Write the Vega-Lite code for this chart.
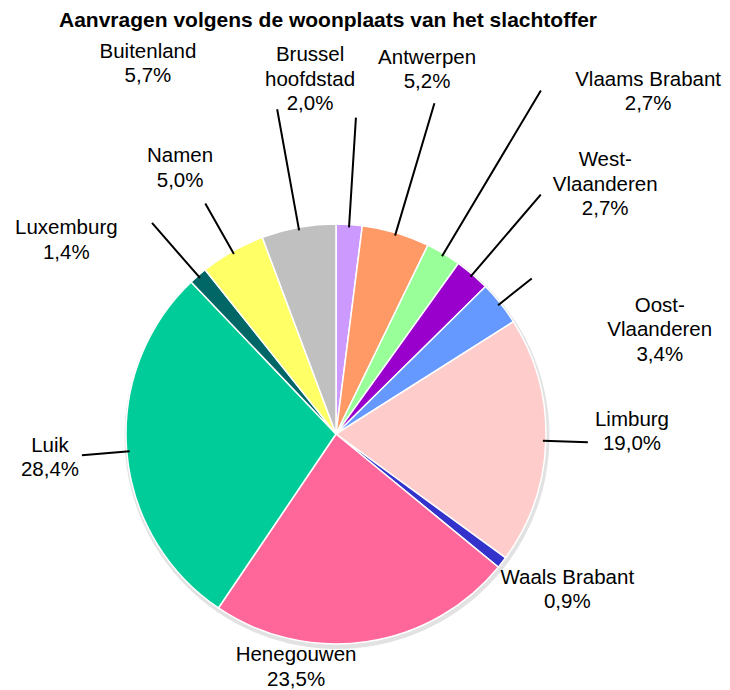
{
  "$schema": "https://vega.github.io/schema/vega-lite/v6.json",
  "autosize": "none",
  "width": 672,
  "height": 788,
  "padding": {"left": 0, "top": 40, "right": 58, "bottom": 0},
  "background": "white",
  "title": {
    "text": "Aanvragen volgens de woonplaats van het slachtoffer",
    "font": "Liberation Sans",
    "fontSize": 21,
    "fontWeight": "bold",
    "color": "black",
    "anchor": "middle",
    "frame": "group",
    "baseline": "alphabetic",
    "offset": -99,
    "dx": -8
  },
  "config": {"view": {"stroke": null}},
  "data": {
    "values": [
      {"nr": 1, "regio": "Brussel hoofdstad", "pct": 2.0, "label": "Brussel\nhoofdstad\n2,0%"},
      {"nr": 2, "regio": "Antwerpen", "pct": 5.2, "label": "Antwerpen\n5,2%"},
      {"nr": 3, "regio": "Vlaams Brabant", "pct": 2.7, "label": "Vlaams Brabant\n2,7%"},
      {"nr": 4, "regio": "West-Vlaanderen", "pct": 2.7, "label": "West-\nVlaanderen\n2,7%"},
      {"nr": 5, "regio": "Oost-Vlaanderen", "pct": 3.4, "label": "Oost-\nVlaanderen\n3,4%"},
      {"nr": 6, "regio": "Limburg", "pct": 19.0, "label": "Limburg\n19,0%"},
      {"nr": 7, "regio": "Waals Brabant", "pct": 0.9, "label": "Waals Brabant\n0,9%"},
      {"nr": 8, "regio": "Henegouwen", "pct": 23.5, "label": "Henegouwen\n23,5%"},
      {"nr": 9, "regio": "Luik", "pct": 28.4, "label": "Luik\n28,4%"},
      {"nr": 10, "regio": "Luxemburg", "pct": 1.4, "label": "Luxemburg\n1,4%"},
      {"nr": 11, "regio": "Namen", "pct": 5.0, "label": "Namen\n5,0%"},
      {"nr": 12, "regio": "Buitenland", "pct": 5.7, "label": "Buitenland\n5,7%"}
    ]
  },
  "encoding": {
    "theta": {"field": "pct", "type": "quantitative", "stack": true},
    "order": {"field": "nr", "type": "quantitative"},
    "detail": {"field": "regio", "type": "nominal"}
  },
  "layer": [
    {
      "mark": {"type": "arc", "radius": 212, "yOffset": 2.5, "xOffset": 1, "stroke": "#e2e2e2", "strokeWidth": 1},
      "encoding": {"color": {"value": "#e2e2e2"}}
    },
    {
      "mark": {"type": "arc", "radius": 210, "stroke": "white", "strokeWidth": 1.5},
      "encoding": {
        "color": {
          "field": "regio", "type": "nominal", "legend": null,
          "scale": {
            "domain": ["Brussel hoofdstad", "Antwerpen", "Vlaams Brabant", "West-Vlaanderen", "Oost-Vlaanderen", "Limburg", "Waals Brabant", "Henegouwen", "Luik", "Luxemburg", "Namen", "Buitenland"],
            "range": ["#CC99FF", "#FF9966", "#99FF99", "#9900CC", "#6699FF", "#FFCCCC", "#3333CC", "#FF6699", "#00CC99", "#006666", "#FFFF66", "#C0C0C0"]
          }
        }
      }
    },
    {"mark": {"type": "arc", "radius": 317, "radius2": 207, "padAngle": 3, "filled": false, "strokeWidth": 2},
     "encoding": {"color": {"value": "black"}, "opacity": {"condition": {"test": "datum.regio === 'Brussel hoofdstad'", "value": 1}, "value": 0}}},
    {"mark": {"type": "arc", "radius": 345, "radius2": 207, "padAngle": 3, "filled": false, "strokeWidth": 2},
     "encoding": {"color": {"value": "black"}, "opacity": {"condition": {"test": "datum.regio === 'Antwerpen'", "value": 1}, "value": 0}}},
    {"mark": {"type": "arc", "radius": 400, "radius2": 207, "padAngle": 3, "filled": false, "strokeWidth": 2},
     "encoding": {"color": {"value": "black"}, "opacity": {"condition": {"test": "datum.regio === 'Vlaams Brabant'", "value": 1}, "value": 0}}},
    {"mark": {"type": "arc", "radius": 315, "radius2": 207, "padAngle": 3, "filled": false, "strokeWidth": 2},
     "encoding": {"color": {"value": "black"}, "opacity": {"condition": {"test": "datum.regio === 'West-Vlaanderen'", "value": 1}, "value": 0}}},
    {"mark": {"type": "arc", "radius": 250, "radius2": 207, "padAngle": 3, "filled": false, "strokeWidth": 2},
     "encoding": {"color": {"value": "black"}, "opacity": {"condition": {"test": "datum.regio === 'Oost-Vlaanderen'", "value": 1}, "value": 0}}},
    {"mark": {"type": "arc", "radius": 252, "radius2": 207, "padAngle": 3, "filled": false, "strokeWidth": 2},
     "encoding": {"color": {"value": "black"}, "opacity": {"condition": {"test": "datum.regio === 'Limburg'", "value": 1}, "value": 0}}},
    {"mark": {"type": "arc", "radius": 255, "radius2": 207, "padAngle": 3, "filled": false, "strokeWidth": 2},
     "encoding": {"color": {"value": "black"}, "opacity": {"condition": {"test": "datum.regio === 'Luik'", "value": 1}, "value": 0}}},
    {"mark": {"type": "arc", "radius": 280, "radius2": 207, "padAngle": 3, "filled": false, "strokeWidth": 2},
     "encoding": {"color": {"value": "black"}, "opacity": {"condition": {"test": "datum.regio === 'Luxemburg'", "value": 1}, "value": 0}}},
    {"mark": {"type": "arc", "radius": 265, "radius2": 207, "padAngle": 3, "filled": false, "strokeWidth": 2},
     "encoding": {"color": {"value": "black"}, "opacity": {"condition": {"test": "datum.regio === 'Namen'", "value": 1}, "value": 0}}},
    {"mark": {"type": "arc", "radius": 330, "radius2": 207, "padAngle": 3, "filled": false, "strokeWidth": 2},
     "encoding": {"color": {"value": "black"}, "opacity": {"condition": {"test": "datum.regio === 'Buitenland'", "value": 1}, "value": 0}}},
    {"mark": {"type": "text", "radius": 355, "thetaOffset": -0.136, "dy": -24.5, "font": "Liberation Sans", "fontSize": 20.5, "lineBreak": "\n", "lineHeight": 24.5, "align": "center", "baseline": "middle"},
     "encoding": {"text": {"field": "label", "type": "nominal"}, "color": {"value": "black"}, "opacity": {"condition": {"test": "datum.regio === 'Brussel hoofdstad'", "value": 1}, "value": 0}}},
    {"mark": {"type": "text", "radius": 375, "thetaOffset": -0.044, "dy": -12.25, "font": "Liberation Sans", "fontSize": 20.5, "lineBreak": "\n", "lineHeight": 24.5, "align": "center", "baseline": "middle"},
     "encoding": {"text": {"field": "label", "type": "nominal"}, "color": {"value": "black"}, "opacity": {"condition": {"test": "datum.regio === 'Antwerpen'", "value": 1}, "value": 0}}},
    {"mark": {"type": "text", "radius": 463, "thetaOffset": 0.202, "dy": -12.25, "font": "Liberation Sans", "fontSize": 20.5, "lineBreak": "\n", "lineHeight": 24.5, "align": "center", "baseline": "middle"},
     "encoding": {"text": {"field": "label", "type": "nominal"}, "color": {"value": "black"}, "opacity": {"condition": {"test": "datum.regio === 'Vlaams Brabant'", "value": 1}, "value": 0}}},
    {"mark": {"type": "text", "radius": 367, "thetaOffset": 0.116, "dy": -24.5, "font": "Liberation Sans", "fontSize": 20.5, "lineBreak": "\n", "lineHeight": 24.5, "align": "center", "baseline": "middle"},
     "encoding": {"text": {"field": "label", "type": "nominal"}, "color": {"value": "black"}, "opacity": {"condition": {"test": "datum.regio === 'West-Vlaanderen'", "value": 1}, "value": 0}}},
    {"mark": {"type": "text", "radius": 340, "thetaOffset": 0.361, "dy": -24.5, "font": "Liberation Sans", "fontSize": 20.5, "lineBreak": "\n", "lineHeight": 24.5, "align": "center", "baseline": "middle"},
     "encoding": {"text": {"field": "label", "type": "nominal"}, "color": {"value": "black"}, "opacity": {"condition": {"test": "datum.regio === 'Oost-Vlaanderen'", "value": 1}, "value": 0}}},
    {"mark": {"type": "text", "radius": 296, "thetaOffset": -0.04, "dy": -12.25, "font": "Liberation Sans", "fontSize": 20.5, "lineBreak": "\n", "lineHeight": 24.5, "align": "center", "baseline": "middle"},
     "encoding": {"text": {"field": "label", "type": "nominal"}, "color": {"value": "black"}, "opacity": {"condition": {"test": "datum.regio === 'Limburg'", "value": 1}, "value": 0}}},
    {"mark": {"type": "text", "radius": 279, "thetaOffset": -0.065, "dy": -12.25, "font": "Liberation Sans", "fontSize": 20.5, "lineBreak": "\n", "lineHeight": 24.5, "align": "center", "baseline": "middle"},
     "encoding": {"text": {"field": "label", "type": "nominal"}, "color": {"value": "black"}, "opacity": {"condition": {"test": "datum.regio === 'Waals Brabant'", "value": 1}, "value": 0}}},
    {"mark": {"type": "text", "radius": 237, "thetaOffset": 0.314, "dy": -12.25, "font": "Liberation Sans", "fontSize": 20.5, "lineBreak": "\n", "lineHeight": 24.5, "align": "center", "baseline": "middle"},
     "encoding": {"text": {"field": "label", "type": "nominal"}, "color": {"value": "black"}, "opacity": {"condition": {"test": "datum.regio === 'Henegouwen'", "value": 1}, "value": 0}}},
    {"mark": {"type": "text", "radius": 287, "thetaOffset": 0, "dy": -12.25, "font": "Liberation Sans", "fontSize": 20.5, "lineBreak": "\n", "lineHeight": 24.5, "align": "center", "baseline": "middle"},
     "encoding": {"text": {"field": "label", "type": "nominal"}, "color": {"value": "black"}, "opacity": {"condition": {"test": "datum.regio === 'Luik'", "value": 1}, "value": 0}}},
    {"mark": {"type": "text", "radius": 332, "thetaOffset": -0.231, "dy": -12.25, "font": "Liberation Sans", "fontSize": 20.5, "lineBreak": "\n", "lineHeight": 24.5, "align": "center", "baseline": "middle"},
     "encoding": {"text": {"field": "label", "type": "nominal"}, "color": {"value": "black"}, "opacity": {"condition": {"test": "datum.regio === 'Luxemburg'", "value": 1}, "value": 0}}},
    {"mark": {"type": "text", "radius": 308, "thetaOffset": -0.015, "dy": -12.25, "font": "Liberation Sans", "fontSize": 20.5, "lineBreak": "\n", "lineHeight": 24.5, "align": "center", "baseline": "middle"},
     "encoding": {"text": {"field": "label", "type": "nominal"}, "color": {"value": "black"}, "opacity": {"condition": {"test": "datum.regio === 'Namen'", "value": 1}, "value": 0}}},
    {"mark": {"type": "text", "radius": 415, "thetaOffset": -0.291, "dy": -12.25, "font": "Liberation Sans", "fontSize": 20.5, "lineBreak": "\n", "lineHeight": 24.5, "align": "center", "baseline": "middle"},
     "encoding": {"text": {"field": "label", "type": "nominal"}, "color": {"value": "black"}, "opacity": {"condition": {"test": "datum.regio === 'Buitenland'", "value": 1}, "value": 0}}}
  ]
}
